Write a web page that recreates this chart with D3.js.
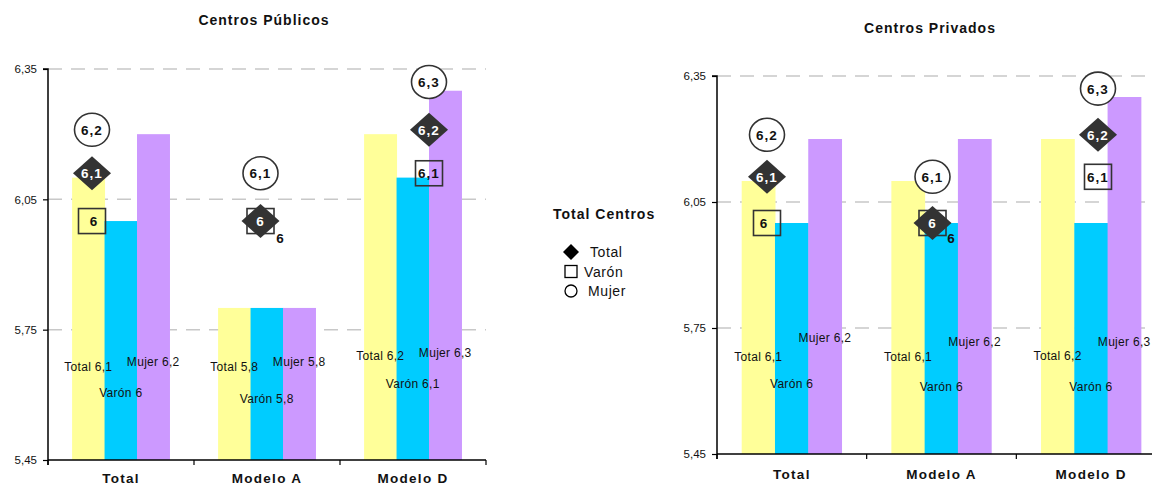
<!DOCTYPE html>
<html>
<head>
<meta charset="utf-8">
<script src="https://cdn.jsdelivr.net/npm/d3@7"></script>
<style>
  html, body { margin: 0; padding: 0; background: #fff; }
  svg { display: block; font-family: "Liberation Sans", Arial, sans-serif; }
</style>
</head>
<body>
<svg id="chart" width="1152" height="485"></svg>
<script>
// ---------- DATA ----------
const categories = ["Total", "Modelo A", "Modelo D"];
const seriesNames = ["Total", "Varón", "Mujer"];
const yTicks = [5.45, 5.75, 6.05, 6.35];

const publicoTotal = [6.1, 5.8, 6.2];
const publicoVaron = [6.0, 5.8, 6.1];
const publicoMujer = [6.2, 5.8, 6.3];

const privadoTotal = [6.1, 6.1, 6.2];
const privadoVaron = [6.0, 6.0, 6.0];
const privadoMujer = [6.2, 6.2, 6.3];

// "Total Centros" marker series
const centrosTotal = [6.11, 6.0, 6.21];
const centrosVaron = [6.0, 6.0, 6.11];
const centrosMujer = [6.21, 6.11, 6.32];

const legendTitle = "Total Centros";

// ---------- STYLE ----------
const barColors = ["#FFFF99", "#00CCFF", "#CC99FF"];
const dark = "#333333";
const fmtTick = v => d3.format(".2f")(v).replace(".", ",");
const fmtVal = v => d3.format(".1~f")(Math.round(v * 10) / 10).replace(".", ",");

const svg = d3.select("#chart");

function drawChart(cfg, bars) {
  const g = svg.append("g");
  const y = d3.scaleLinear().domain([yTicks[0], yTicks[yTicks.length - 1]]).range([cfg.yBottom, cfg.yTop]);
  const x = d3.scaleBand().domain(categories).range([cfg.x0, cfg.x1]).padding(0);
  const xs = d3.scaleBand().domain(seriesNames)
    .range([x.bandwidth() * 0.165, x.bandwidth() * 0.832]).padding(0);
  const xm = d3.scalePoint().domain(categories).range(cfg.markerRange);

  // title
  g.append("text").attr("x", cfg.titleX).attr("y", cfg.titleY + 5)
    .attr("text-anchor", "middle").attr("font-size", 14).attr("font-weight", "bold")
    .attr("letter-spacing", 1).attr("fill", "#111").text(cfg.title);

  // gridlines
  g.append("g").selectAll("line").data(yTicks.slice(1)).join("line")
    .attr("x1", cfg.x0).attr("x2", cfg.x1)
    .attr("y1", d => y(d)).attr("y2", d => y(d))
    .attr("stroke", "#c8c8c8").attr("stroke-width", 1.5).attr("stroke-dasharray", "14,9");

  // bars
  const groups = g.append("g").selectAll("g").data(categories).join("g")
    .attr("transform", c => `translate(${x(c)},0)`);
  groups.selectAll("rect")
    .data((c, ci) => seriesNames.map((s, si) => ({ s, si, ci, v: bars[si][ci] })))
    .join("rect")
    .attr("x", d => xs(d.s)).attr("width", xs.bandwidth() + 0.5)
    .attr("y", d => y(d.v)).attr("height", d => cfg.yBottom - y(d.v))
    .attr("fill", d => barColors[d.si]);

  // y axis
  const ya = g.append("g").attr("transform", `translate(${cfg.x0},0)`)
    .call(d3.axisLeft(y).tickValues(yTicks).tickSize(5).tickPadding(6).tickFormat(fmtTick));
  ya.select(".domain").attr("stroke", "#000").attr("stroke-width", 1.5)
    .attr("d", `M-5,${cfg.yTop}H0V${cfg.yBottom + 5}`);
  ya.selectAll(".tick line").attr("stroke", "#000").attr("stroke-width", 1.2);
  ya.selectAll(".tick text").attr("font-size", 11.5).attr("fill", "#111")
    .attr("font-family", "'Liberation Sans', Arial, sans-serif");

  // x axis
  g.append("line").attr("x1", cfg.x0).attr("x2", cfg.x1)
    .attr("y1", cfg.yBottom).attr("y2", cfg.yBottom)
    .attr("stroke", "#000").attr("stroke-width", 1.5);
  const bounds = categories.map(c => x(c)).concat([cfg.x1]);
  g.append("g").selectAll("line").data(bounds).join("line")
    .attr("x1", d => d).attr("x2", d => d)
    .attr("y1", cfg.yBottom).attr("y2", cfg.yBottom + 5)
    .attr("stroke", "#000").attr("stroke-width", 1.2);
  g.append("g").selectAll("text").data(categories).join("text")
    .attr("x", c => x(c) + x.bandwidth() / 2).attr("y", cfg.yBottom + cfg.catDy)
    .attr("text-anchor", "middle").attr("font-size", 13.5).attr("font-weight", "bold")
    .attr("letter-spacing", 1.3).attr("fill", "#111").text(c => c);

  // bar data labels
  groups.selectAll("text.bl")
    .data((c, ci) => seriesNames.map((s, si) => ({ s, si, ci, v: bars[si][ci] })))
    .join("text").attr("class", "bl")
    .attr("x", d => xs(d.s) + xs.bandwidth() / 2)
    .attr("y", d => cfg.yBottom - cfg.labelLift[d.si][d.ci] + 4)
    .attr("text-anchor", "middle").attr("font-size", 12).attr("letter-spacing", 0.3)
    .attr("fill", "#111").text(d => `${d.s} ${fmtVal(d.v)}`);

  // markers: Varón (square), Mujer (circle), Total (diamond)
  const mk = g.append("g");
  mk.selectAll("rect.sq").data(centrosVaron).join("rect").attr("class", "sq")
    .attr("x", (v, i) => xm(categories[i]) - 13.5).attr("y", v => y(v) - 12.5)
    .attr("width", 27).attr("height", 25)
    .attr("fill", "none").attr("stroke", dark).attr("stroke-width", 1.6);
  mk.selectAll("ellipse").data(centrosMujer).join("ellipse")
    .attr("cx", (v, i) => xm(categories[i])).attr("cy", v => y(v))
    .attr("rx", 17.5).attr("ry", 16.5)
    .attr("fill", "#fff").attr("stroke", dark).attr("stroke-width", 1.6);
  mk.selectAll("path.dm").data(centrosTotal).join("path").attr("class", "dm")
    .attr("d", (v, i) => {
      const cx = xm(categories[i]), cy = y(v);
      return `M${cx},${cy - 17}L${cx + 19},${cy}L${cx},${cy + 17}L${cx - 19},${cy}Z`;
    })
    .attr("fill", dark);

  // marker labels
  const lab = (arr, cls, color, shift) => {
    mk.selectAll("text." + cls).data(arr).join("text").attr("class", cls)
      .attr("x", (v, i) => xm(categories[i]) + (shift ? shift[i][0] : 0))
      .attr("y", (v, i) => y(v) + 5 + (shift ? shift[i][1] : 0))
      .attr("text-anchor", "middle").attr("font-size", 13.5).attr("font-weight", "bold")
      .attr("letter-spacing", 1).attr("fill", color).text(v => fmtVal(v));
  };
  lab(centrosVaron, "lv", "#111", cfg.squareLabelShift);
  lab(centrosMujer, "lm", "#111", null);
  lab(centrosTotal, "lt", "#fff", null);
}

drawChart({
  title: "Centros Públicos", titleX: 264, titleY: 20,
  x0: 48, x1: 486, yTop: 69, yBottom: 460, catDy: 23,
  markerRange: [92, 429],
  labelLift: [[93, 93, 104], [67, 61, 76], [98, 98, 107]],
  squareLabelShift: [[2, 0], [20, 17], [0, 0]]
}, [publicoTotal, publicoVaron, publicoMujer]);

drawChart({
  title: "Centros Privados", titleX: 930, titleY: 28,
  x0: 717, x1: 1166, yTop: 76, yBottom: 454, catDy: 25,
  markerRange: [767, 1098],
  labelLift: [[97, 97, 98], [70, 67, 67], [116, 112, 112]],
  squareLabelShift: [[-3, 0], [19, 15], [0, 0]]
}, [privadoTotal, privadoVaron, privadoMujer]);

// ---------- LEGEND ----------
const lg = svg.append("g");
lg.append("text").attr("x", 553).attr("y", 219).attr("font-size", 14).attr("font-weight", "bold")
  .attr("letter-spacing", 1).attr("fill", "#111").text(legendTitle);
const legItems = seriesNames.map((s, i) => ({ s, i }));
const ly = d3.scalePoint().domain(seriesNames).range([252, 291]);
lg.selectAll("g").data(legItems).join("g")
  .attr("transform", d => `translate(571,${ly(d.s)})`)
  .each(function (d) {
    const e = d3.select(this);
    if (d.i === 0) {
      e.append("path").attr("d", "M0,-8L8,0L0,8L-8,0Z").attr("fill", "#000");
      e.append("text").attr("x", 19).attr("y", 5).text(d.s);
    } else if (d.i === 1) {
      e.append("rect").attr("x", -6).attr("y", -6).attr("width", 12).attr("height", 12)
        .attr("fill", "#fff").attr("stroke", "#000").attr("stroke-width", 1.3);
      e.append("text").attr("x", 13).attr("y", 5).text(d.s);
    } else {
      e.append("circle").attr("r", 6).attr("fill", "#fff").attr("stroke", "#000").attr("stroke-width", 1.3);
      e.append("text").attr("x", 17).attr("y", 5).text(d.s);
    }
  });
lg.selectAll("text").filter(function () { return !this.getAttribute("font-weight"); })
  .attr("font-size", 14).attr("letter-spacing", 0.6).attr("fill", "#111");
</script>
</body>
</html>
